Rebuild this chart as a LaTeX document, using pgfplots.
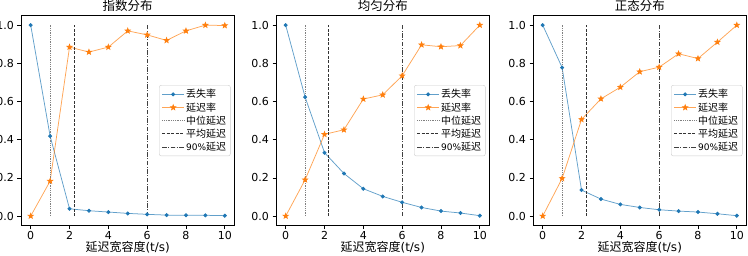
\documentclass[border=0pt]{standalone}
\usepackage{pgfplots}
\usepackage{pgfplotstable}
\pgfplotsset{compat=1.18}
\usepackage{fontspec}
\setmainfont{DejaVu Sans}
\newfontfamily\cjk{Noto Sans CJK SC}
\definecolor{tblue}{HTML}{1F77B4}
\definecolor{torange}{HTML}{FF7F0E}

\pgfdeclareplotmark{fstar}{%
\pgfpathmoveto{\pgfpointpolar{90}{\pgfplotmarksize}}%
\pgfpathlineto{\pgfpointpolar{126}{0.42\pgfplotmarksize}}%
\pgfpathlineto{\pgfpointpolar{162}{\pgfplotmarksize}}%
\pgfpathlineto{\pgfpointpolar{198}{0.42\pgfplotmarksize}}%
\pgfpathlineto{\pgfpointpolar{234}{\pgfplotmarksize}}%
\pgfpathlineto{\pgfpointpolar{270}{0.42\pgfplotmarksize}}%
\pgfpathlineto{\pgfpointpolar{306}{\pgfplotmarksize}}%
\pgfpathlineto{\pgfpointpolar{342}{0.42\pgfplotmarksize}}%
\pgfpathlineto{\pgfpointpolar{18}{\pgfplotmarksize}}%
\pgfpathlineto{\pgfpointpolar{54}{0.42\pgfplotmarksize}}%
\pgfpathclose
\pgfusepathqfillstroke}

\pgfplotstableread{
x loss delay
0 1.000 0.000
1 0.419 0.183
2 0.038 0.885
3 0.028 0.859
4 0.021 0.885
5 0.014 0.970
6 0.009 0.949
7 0.005 0.920
8 0.004 0.970
9 0.004 1.000
10 0.002 0.998
}\expdata
\pgfplotstableread{
x loss delay
0 1.000 0.000
1 0.623 0.190
2 0.332 0.428
3 0.223 0.452
4 0.143 0.613
5 0.103 0.635
6 0.072 0.735
7 0.045 0.897
8 0.026 0.887
9 0.016 0.893
10 0.002 1.000
}\unidata
\pgfplotstableread{
x loss delay
0 1.000 0.000
1 0.778 0.197
2 0.136 0.506
3 0.089 0.614
4 0.061 0.675
5 0.045 0.756
6 0.033 0.780
7 0.026 0.850
8 0.021 0.825
9 0.012 0.911
10 0.002 1.000
}\normdata

\pgfplotsset{
 panel/.style={
  scale only axis, width=213.5pt, height=210pt, anchor=south west,
  xmin=-0.5, xmax=10.5, ymin=-0.05, ymax=1.05,
  xtick={0,2,...,10}, ytick={0,0.2,...,1.0},
  yticklabel style={/pgf/number format/fixed,/pgf/number format/fixed zerofill,/pgf/number format/precision=1},
  /pgf/number format/assume math mode=true,
  tick align=outside, tick pos=left, major tick length=3.5pt,
  every tick/.style={black, line width=0.6pt},
  axis line style={line width=0.6pt},
  ticklabel style={font=\fontsize{11}{12}\selectfont},
  xticklabel style={yshift=1pt},
  xlabel={{\cjk 延迟宽容度}(t/s)},
  xlabel style={font=\fontsize{12}{14}\selectfont, yshift=5.5pt},
  title style={font=\fontsize{12.5}{14}\selectfont\cjk, yshift=-5.5pt},
  legend style={at={(1,0.5)}, anchor=east, xshift=-4pt,
    font=\fontsize{10}{12}\selectfont, draw=black!20, rounded corners=2pt,
    fill=white, fill opacity=0.8, text opacity=1, draw opacity=1,
    cells={anchor=west}, inner sep=2.5pt, row sep=0pt,
    nodes={inner sep=1.6pt}},
  legend image code/.code={\draw[mark repeat=2,mark phase=2,##1] plot coordinates {(0pt,0pt) (11pt,0pt) (22pt,0pt)};},
 },
 lossline/.style={color=tblue, line width=0.75pt, draw opacity=0.7, mark=*, mark size=1.6pt, mark options={solid, draw opacity=1, fill opacity=1}},
 delayline/.style={color=torange, line width=0.75pt, draw opacity=0.7, mark=fstar, mark size=2.6pt, mark options={solid, draw opacity=1, fill opacity=1}},
 medline/.style={color=black!50, line width=0.8pt, densely dotted},
 meanline/.style={color=black!80, line width=0.8pt, dash pattern=on 3pt off 1.5pt},
 pline/.style={color=black!75, line width=0.8pt, dash pattern=on 4.5pt off 1.5pt on 1pt off 1.5pt},
}

\newcommand{\panel}[5]{%
\begin{axis}[panel, at={(#1,29.4pt)}, title={#2}]
\addplot[lossline] table[x=x,y=loss] {#3};
\addplot[delayline] table[x=x,y=delay] {#3};
\addplot[medline] coordinates {(1,0) (1,1)};
\addplot[meanline] coordinates {(#4,0) (#4,1)};
\addplot[pline] coordinates {(#5,0) (#5,1)};
\legend{{\cjk 丢失率},{\cjk 延迟率},{\cjk 中位延迟},{\cjk 平均延迟},{\fontsize{9}{11}\selectfont 90\%}{\cjk 延迟}}
\end{axis}}

\begin{document}
\begin{tikzpicture}
\path[use as bounding box] (0,0) rectangle (748pt,255pt);
\panel{21pt}{指数分布}{\expdata}{2.23}{6}
\panel{276pt}{均匀分布}{\unidata}{2.22}{6}
\panel{533pt}{正态分布}{\normdata}{2.26}{6}
\end{tikzpicture}
\end{document}
